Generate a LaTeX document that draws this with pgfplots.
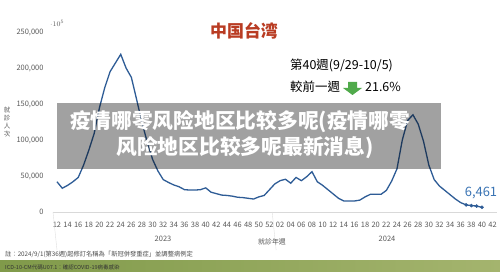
\documentclass[border=0pt]{standalone}
\usepackage{pgfplots}
\usepackage{pgfplotstable}
\pgfplotsset{compat=1.18}
\usepackage{fontspec}
\setmainfont{Noto Sans CJK TC}
\newfontfamily\scfont{Noto Sans CJK SC}
\definecolor{lineblue}{RGB}{46,92,150}
\definecolor{labblue}{RGB}{58,116,180}
\definecolor{tickgray}{RGB}{89,89,89}
\definecolor{titlered}{RGB}{185,60,35}
\definecolor{arrowgreen}{RGB}{80,170,75}
\definecolor{barA}{RGB}{128,154,74}
\definecolor{barB}{RGB}{164,180,110}
\pgfplotstableread{
i v
0 42000
1 33000
2 37000
3 42000
4 48000
5 65000
6 86000
7 109000
8 145000
9 173000
10 195000
11 207000
12 219000
13 200000
14 187000
15 156000
16 124000
17 97000
18 73000
19 57000
20 45000
21 41000
22 37500
23 35000
24 31000
25 30500
26 30500
27 31000
28 33500
29 27500
30 25500
31 23500
32 23000
33 22000
34 20500
35 20000
36 19000
37 18000
38 21000
39 23000
40 31000
41 39000
42 43500
43 45500
44 40000
45 48000
46 43500
47 49000
48 56000
49 42000
50 37000
51 31000
52 25000
53 19000
54 15300
55 15300
56 15300
57 16500
58 21000
59 24600
60 24600
61 24600
62 30000
63 43000
64 60000
65 100000
66 127000
67 135000
68 122000
69 98000
70 65000
71 45000
72 36000
73 30000
74 24000
75 18000
76 13000
77 9900
78 8900
79 8240
80 6461
}\datatable
\begin{document}
\begin{tikzpicture}
\useasboundingbox (0,0) rectangle (500bp,273bp);
\fill[white] (0,0) rectangle (500bp,273bp);
\begin{axis}[
  at={(53bp,61bp)}, anchor=south west,
  scale only axis, width=443.6bp, height=180bp,
  xmin=-0.75, xmax=82.75, ymin=0, ymax=250000,
  axis line style={draw=none}, major tick length=0,
  xtick={0,2,...,82},
  xticklabels={12,14,16,18,20,22,24,26,28,30,32,34,36,38,40,42,44,46,48,50,52,02,04,06,08,10,12,14,16,18,20,22,24,26,28,30,32,34,36,38,40,42},
  ytick={0,50000,100000,150000,200000,250000},
  yticklabels={0,{50,000},{100,000},{150,000},{200,000},{250,000}},
  ticklabel style={font=\fontsize{7.5}{9}\selectfont, text=tickgray},
  xticklabel style={yshift=-7bp},
  yticklabel style={xshift=-6bp},
  clip=false,
]
\draw[black!15] (axis cs:-0.75,0) -- (axis cs:82.75,0);
\draw[black!12] (axis cs:-0.75,0) -- ++(0,-38bp);
\draw[black!12] (axis cs:40.5,0) -- ++(0,-38bp);
\addplot[color=lineblue, line width=1.3bp, mark=none] table[x=i,y=v]{\datatable};
\addplot[only marks, mark=*, mark size=1.6bp, color=lineblue] coordinates {(77,9900)(78,8900)(79,8240)(80,6461)};
\node[font=\fontsize{13}{15}\selectfont, text=labblue] at (axis cs:80,6461) [xshift=-1bp, yshift=14bp] {6,461};
\end{axis}
% y-axis label
\node[font=\fontsize{6.5}{8.3}\selectfont, text=tickgray, align=center] at (7bp,151bp) {就\\診\\人\\次};
% category labels
\node[font=\fontsize{7.5}{9}\selectfont, text=tickgray] at (163bp,34bp) {2023};
\node[font=\fontsize{7.5}{9}\selectfont, text=tickgray] at (387bp,34bp) {2024};
\node[font=\fontsize{7}{9}\selectfont, text=tickgray] at (272bp,31bp) {就診年週};
% title block
\node[font=\scfont\bfseries\fontsize{17}{20}\selectfont, text=titlered] at (244bp,242bp) {中国台湾};
\node[font=\fontsize{12.5}{15}\selectfont, anchor=west, inner sep=0pt] at (290bp,208bp) {第40週(9/29-10/5)};
\node[font=\fontsize{12.5}{15}\selectfont, anchor=west, inner sep=0pt] at (290bp,186bp) {較前一週};
\fill[arrowgreen] (348bp,191bp) -- (357bp,191bp) -- (357bp,185bp) -- (362bp,185bp) -- (352.5bp,178bp) -- (343bp,185bp) -- (348bp,185bp) -- cycle;
\node[font=\fontsize{12.5}{15}\selectfont, anchor=west, inner sep=0pt] at (365bp,186bp) {21.6\%};
% overlay band
\fill[black, opacity=0.37] (57bp,104bp) rectangle (441bp,170bp);
\node[font=\scfont\bfseries\fontsize{20.8}{24}\selectfont, text=white] at (240bp,151bp) {疫情哪零风险地区比较多呢(疫情哪零};
\node[font=\scfont\bfseries\fontsize{20.8}{24}\selectfont, text=white] at (245bp,125bp) {风险地区比较多呢最新消息)};
% note
\node[font=\fontsize{6.3}{8}\selectfont, text=black!70, anchor=west, inner sep=0pt] at (5bp,19bp) {註：2024/9/1(第36週)起修訂名稱為「新冠併發重症」並調整病例定};
% bottom bar
\shade[left color=barA, right color=barB] (0,1bp) rectangle (500bp,12bp);
\node[font=\fontsize{5.5}{7}\selectfont, text=black!80, anchor=west, inner sep=0pt] at (5bp,6bp) {ICD-10-CM代碼U07.1：確認COVID-19病毒感染};
\end{tikzpicture}
\end{document}
